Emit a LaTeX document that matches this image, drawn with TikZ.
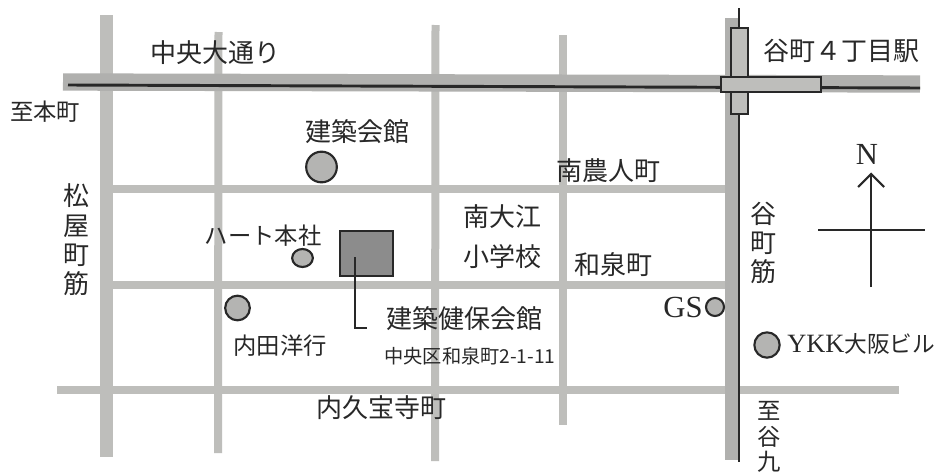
\documentclass[tikz,border=0pt]{standalone}
\usetikzlibrary{shapes.geometric}
\usepackage{fontspec}
\setmainfont{Liberation Serif}
\newfontfamily\cjk{Noto Sans CJK JP}
\definecolor{road}{RGB}{190,190,187}
\definecolor{mainroad}{RGB}{176,176,174}
\definecolor{poi}{RGB}{180,180,178}
\definecolor{bld}{RGB}{140,140,140}
\definecolor{ink}{RGB}{40,40,40}
\tikzset{
 roadline/.style={road,line width=6pt},
 widegrey/.style={road,line width=9.5pt},
 wideroad/.style={mainroad,line width=13pt},
 wideroadv/.style={mainroad,line width=11pt},
 axisroad/.style={ink,line width=2.2pt},
 poidot/.style={circle,draw=ink,fill=poi,line width=1.6pt,inner sep=0pt},
 lab/.style={text=ink,font=\cjk\fontsize{19.5}{21}\selectfont,inner sep=0pt},
 smalllab/.style={text=ink,font=\cjk\fontsize{17.5}{19}\selectfont,inner sep=0pt},
 latinlab/.style={text=ink,font=\fontsize{23}{25}\selectfont,inner sep=0pt},
 stationbox/.style={draw=ink,fill=road,line width=1.8pt},
 compassline/.style={ink,line width=1.6pt},
}
\begin{document}
\begin{tikzpicture}[x=0.75pt,y=-0.75pt]
\useasboundingbox (0,0) rectangle (938,475);
\fill[white] (0,0) rectangle (938,475);
\coordinate (ma) at (68,85);\coordinate (mb) at (920,88);
\coordinate (ta) at (739,8);\coordinate (tb) at (739,462);
% grey roads
\draw[widegrey] (106.5,15)--(106.5,457);
\draw[roadline] (218.5,32)--(218,453);
\draw[roadline] (435.5,25)--(435,461);
\draw[roadline] (563,35)--(563,425);
\draw[roadline] (110,189)--(728,189);
\draw[roadline] (108,285)--(728,285);
\draw[roadline] (57,390)--(899,390);
\draw[wideroad] (63,82)--(920,84);
\draw[wideroadv] (732.5,18)--(732.5,460);
% main roads
\draw[axisroad] (ma)--(mb);
\draw[axisroad] (ta)--(tb);
% station
\node[stationbox,minimum width=12.6pt,minimum height=64.5pt,inner sep=0pt] (sv) at (739.5,71) {};
\node[stationbox,minimum width=75pt,minimum height=11.5pt,inner sep=0pt] (sh) at (771,84.5) {};
% building
\node[draw=ink,fill=bld,line width=1.6pt,minimum width=40pt,minimum height=33.5pt,inner sep=0pt] (kenpo) at (366.5,253.5) {};
\coordinate (kc) at (355,257);\coordinate (ke) at (367,328);
\draw[ink,line width=2.2pt] (kc)|-(ke);
% dots
\node[poidot,minimum size=23pt] (kaikan) at (321.5,167) {};
\node[ellipse,draw=ink,fill=poi,line width=1.6pt,inner sep=0pt,minimum width=15.5pt,minimum height=13.5pt] (heart) at (302.5,258) {};
\node[poidot,minimum size=18.5pt] (uchida) at (237.5,308) {};
\node[poidot,minimum size=13.5pt] (gs) at (715,307) {};
\node[poidot,minimum size=19pt] (ykk) at (767,345) {};
% labels
\node[lab] (l1) at (215,53) {中央大通り};
\node[lab] (l2) at (841,51) {谷町４丁目駅};
\node[smalllab] (l3) at (45,112) {至本町};
\node[lab] (l4) at (357,132) {建築会館};
\node[lab] (l5) at (608,171) {南農人町};
\node[lab] (l6) at (502,217) {南大江};
\node[lab] (l7) at (502,257) {小学校};
\node[lab] (l8) at (613,265) {和泉町};
\node[smalllab] (l9) at (263,236) {ハート本社};
\node[lab] (l10) at (464,319) {建築健保会館};
\node[text=ink,inner sep=0pt,font=\cjk\fontsize{14.4}{16}\selectfont] (l11) at (470,356) {中央区和泉町2-1-11};
\node[smalllab] (l12) at (280,346) {内田洋行};
\node[lab] (l13) at (381,408) {内久宝寺町};
\node[latinlab] (l14) at (683,307) {GS};
\node[smalllab,anchor=west] (l15) at (787,344) {\fontsize{19.8}{21}\rmfamily YKK\cjk\fontsize{17}{19}\selectfont 大阪ビル};
\node[lab,align=center] (l16) at (76,240) {松\\[1pt]屋\\[1pt]町\\[1pt]筋};
\node[lab,align=center] (l17) at (763,243) {谷\\[1pt]町\\[1pt]筋};
\node[smalllab,align=center] (l18) at (769,437) {至\\谷\\九};
\node[latinlab] (n) at (867,154) {N};
% compass
\coordinate (ns) at (871,287);\coordinate (ne) at (871,174);
\coordinate (ew) at (818,230);\coordinate (ee) at (925,230);
\coordinate (nl) at (858,187);\coordinate (nr) at (884,187);
\draw[compassline] (ns)--(ne);
\draw[compassline] (ew)--(ee);
\draw[compassline] (nl)--(ne)--(nr);
\end{tikzpicture}
\end{document}
